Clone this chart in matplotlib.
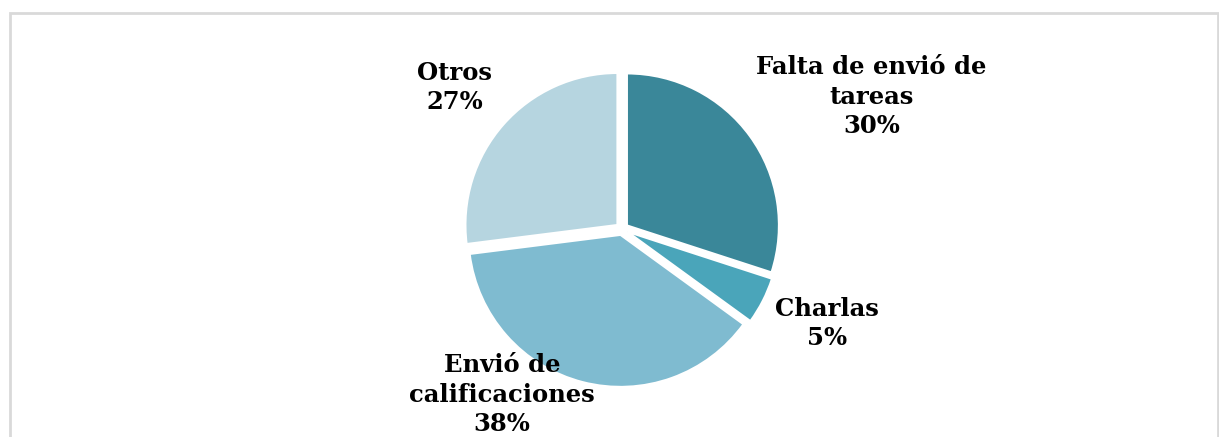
import matplotlib.pyplot as plt
from matplotlib.patches import Rectangle

# data
labels = ["Falta de envió de\ntareas", "Charlas", "Envió de\ncalificaciones", "Otros"]
values = [30, 5, 38, 27]
colors = ["#3A8799", "#4AA5BA", "#7FBBD0", "#B6D5E0"]
label_pos = [(1.64, 0.87), (1.35, -0.62), (-0.79, -1.09), (-1.10, 0.93)]

W, H = 1219, 437
fig = plt.figure(figsize=(W / 100, H / 100), dpi=100)

# light gray frame around the chart area
fig.patches.append(Rectangle((10 / W, -0.05), (1207.5) / W, 1.05 - 13 / H,
                             transform=fig.transFigure, fill=False,
                             edgecolor="#D9D9D9", linewidth=2))

r_px = 152
cx, cy = 622, 229
side = 3 * r_px
ax = fig.add_axes([(cx - side / 2) / W, (H - cy - side / 2) / H, side / W, side / H])

ax.pie(values, colors=colors, startangle=90, counterclock=False,
       explode=[0.04] * 4, radius=1,
       wedgeprops=dict(edgecolor="white", linewidth=1.5))
ax.set_xlim(-1.5, 1.5)
ax.set_ylim(-1.5, 1.5)
ax.axis("off")

for lab, v, (x, y) in zip(labels, values, label_pos):
    ax.text(x, y, f"{lab}\n{v}%", ha="center", va="center",
            fontsize=17.5, fontweight="bold", family="DejaVu Serif",
            linespacing=1.28, clip_on=False)

fig.savefig("out.png", dpi=100)
